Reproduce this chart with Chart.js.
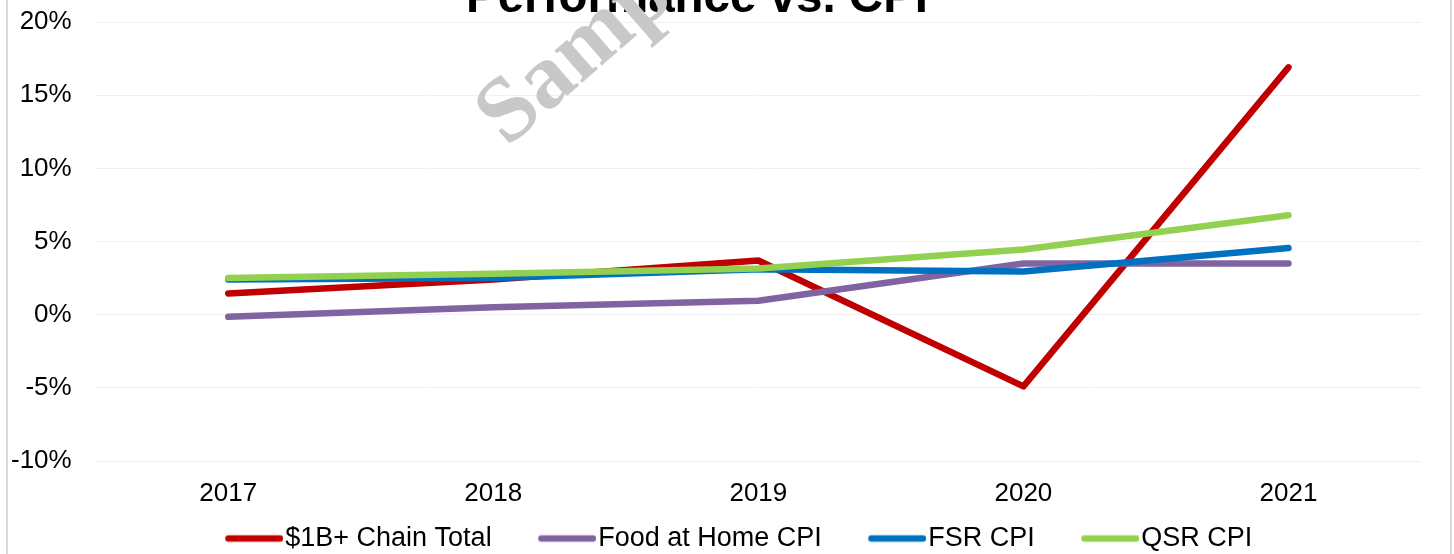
<!DOCTYPE html>
<html>
<head>
<meta charset="utf-8">
<script src="https://cdn.jsdelivr.net/npm/chart.js@4.4.1/dist/chart.umd.min.js"></script>
<style>
  html, body { margin: 0; padding: 0; background: #ffffff; }
  #wrap { width: 1454px; height: 554px; overflow: hidden; position: relative; }
  canvas { display: block; }
</style>
</head>
<body>
<div id="wrap"><canvas id="c" width="1454" height="554"></canvas></div>
<script>
const categories = ['2017', '2018', '2019', '2020', '2021'];
const chainTotal = [1.45, 2.4, 3.7, -4.9, 16.9];
const foodAtHomeCPI = [-0.15, 0.5, 0.95, 3.5, 3.5];
const fsrCPI = [2.4, 2.5, 3.1, 2.95, 4.55];
const qsrCPI = [2.5, 2.8, 3.15, 4.45, 6.8];
const seriesNames = ['$1B+ Chain Total', 'Food at Home CPI', 'FSR CPI', 'QSR CPI'];
const seriesColors = ['#c00000', '#8064a2', '#0070c0', '#92d050'];
const titleText = 'Performance vs. CPI';
const watermarkText = 'Sample';
const yMin = -10, yMax = 20, yStep = 5;

const FONT = '"Liberation Sans", Arial, Helvetica, sans-serif';
const LINE_W = 6.5;
const MARKER_BOX = 92;

// legend marker: a rounded line placed at the right end of a transparent strip
function legendMarker(color) {
  const c = document.createElement('canvas');
  c.width = MARKER_BOX + 23; c.height = 10;
  const g = c.getContext('2d');
  g.strokeStyle = color;
  g.lineWidth = LINE_W;
  g.lineCap = 'round';
  g.beginPath();
  g.moveTo(c.width - 58 + LINE_W / 2, 5);
  g.lineTo(c.width - LINE_W / 2, 5);
  g.stroke();
  return c;
}

const seriesValues = [chainTotal, foodAtHomeCPI, fsrCPI, qsrCPI];
const datasets = seriesValues.map((vals, i) => ({
  label: seriesNames[i],
  data: vals,
  borderColor: seriesColors[i],
  backgroundColor: seriesColors[i],
  borderWidth: LINE_W,
  borderCapStyle: 'round',
  borderJoinStyle: 'round',
  pointRadius: 0,
  pointHoverRadius: 0,
  pointStyle: legendMarker(seriesColors[i]),
  tension: 0,
  fill: false,
  order: seriesValues.length - i
}));

const decorPlugin = {
  id: 'decor',
  afterDraw(chart) {
    const ctx = chart.ctx;
    ctx.save();
    // title
    ctx.fillStyle = '#000000';
    ctx.font = 'bold 47.5px ' + FONT;
    ctx.textAlign = 'center';
    ctx.textBaseline = 'alphabetic';
    ctx.fillText(titleText, 697, 12);
    // watermark
    ctx.save();
    ctx.translate(507, 148);
    ctx.rotate(-41 * Math.PI / 180);
    ctx.fillStyle = '#c8c8c8';
    ctx.font = 'bold 92px "Liberation Serif", "Times New Roman", serif';
    ctx.textAlign = 'left';
    ctx.textBaseline = 'alphabetic';
    ctx.fillText(watermarkText, 0, 0);
    ctx.restore();
    // frame borders
    ctx.strokeStyle = '#d9d9d9';
    ctx.lineWidth = 2;
    ctx.beginPath();
    ctx.moveTo(7, 0); ctx.lineTo(7, 554);
    ctx.moveTo(1451, 0); ctx.lineTo(1451, 554);
    ctx.stroke();
    ctx.restore();
  }
};

new Chart(document.getElementById('c'), {
  type: 'line',
  data: { labels: categories, datasets },
  plugins: [decorPlugin],
  options: {
    responsive: false,
    animation: false,
    devicePixelRatio: 1,
    layout: { padding: { top: 22, left: 11, right: 33, bottom: 0 } },
    plugins: {
      title: { display: false },
      tooltip: { enabled: false },
      legend: {
        display: true,
        position: 'bottom',
        maxHeight: 30,
        labels: {
          usePointStyle: true,
          pointStyleWidth: MARKER_BOX,
          boxWidth: MARKER_BOX,
          padding: 1,
          color: '#000000',
          font: { family: FONT, size: 27 },
          sort: (a, b) => a.datasetIndex - b.datasetIndex
        }
      }
    },
    scales: {
      x: {
        type: 'category',
        offset: true,
        grid: { display: false, drawTicks: false },
        border: { display: false },
        ticks: { color: '#000000', font: { family: FONT, size: 26 }, padding: 17, maxRotation: 0 },
        afterFit: (scale) => { scale.height = 63; }
      },
      y: {
        min: yMin,
        max: yMax,
        grid: { color: '#f0f0f0', lineWidth: 1, drawTicks: true, tickLength: 24, tickColor: 'rgba(0,0,0,0)' },
        border: { display: false },
        ticks: {
          stepSize: yStep,
          color: '#000000',
          font: { family: FONT, size: 26 },
          padding: 0,
          callback: (v) => v + '%'
        }
      }
    }
  }
});
</script>
</body>
</html>
